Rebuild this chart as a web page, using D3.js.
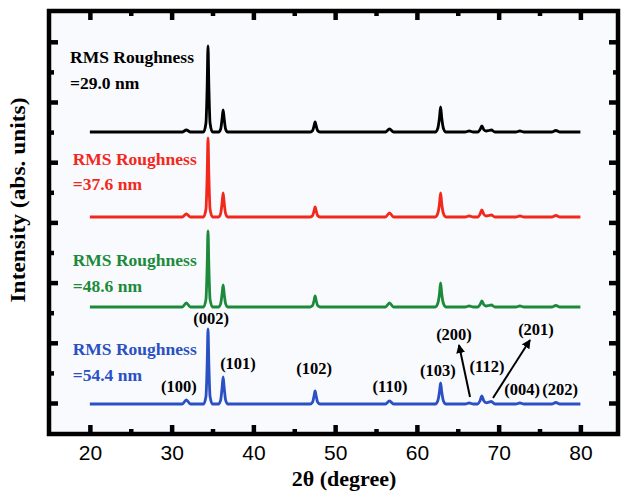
<!DOCTYPE html>
<html>
<head>
<meta charset="utf-8">
<script src="https://cdn.jsdelivr.net/npm/d3@7"></script>
<style>
  body { margin: 0; background: #ffffff; }
  .serif { font-family: "Liberation Serif", "Times New Roman", serif; font-weight: bold; }
  .tick text { font-family: "Liberation Sans", Arial, sans-serif; font-size: 21px; fill: #000; }
</style>
</head>
<body>
<script>
// Set H/W
const svgWidth = 622;
const svgHeight = 491;

// 2theta grid shared by all four patterns (degree)
const twoTheta = [20,
  31.3, 31.8, 32.3,
  33.9, 34.2, 34.35, 34.45, 34.55, 34.7, 35.0,
  35.75, 36.0, 36.17, 36.3, 36.43, 36.6, 36.85,
  46.95, 47.25, 47.42, 47.55, 47.68, 47.85, 48.15,
  56.15, 56.65, 57.15,
  62.25, 62.55, 62.76, 62.9, 63.04, 63.25, 63.55,
  65.9, 66.4, 66.9,
  67.45, 67.72, 67.95, 68.18, 68.5, 68.8, 69.1, 69.55,
  72.1, 72.6, 73.1,
  76.5, 77.0, 77.5,
  80];

// intensities (abs. units), one list per film
const black29 = [0,
  0, 2, 0,
  0, 9, 47, 86, 47, 9, 0,
  0, 3, 13, 22, 13, 3, 0,
  0, 1.5, 6, 10, 6, 1.5, 0,
  0, 3, 0,
  0, 3.5, 14, 25, 14, 3.5, 0,
  0, 1, 0,
  0, 2.4, 6, 2.4, 1, 1.5, 2, 0,
  0, 1, 0,
  0, 1.5, 0,
  0];
const red376 = [0,
  0, 3, 0,
  0, 8, 43, 79, 43, 8, 0,
  0, 3.6, 14, 24, 14, 3.6, 0,
  0, 1.5, 6, 10, 6, 1.5, 0,
  0, 4, 0,
  0, 3.4, 13, 24, 13, 3.4, 0,
  0, 1, 0,
  0, 2.8, 7, 2.8, 1, 1.5, 2, 0,
  0, 1, 0,
  0, 1.5, 0,
  0];
const green486 = [0,
  0, 4, 0,
  0, 7.6, 42, 76, 42, 7.6, 0,
  0, 3.3, 13, 22, 13, 3.3, 0,
  0, 1.6, 6.5, 11, 6.5, 1.6, 0,
  0, 4, 0,
  0, 3.4, 13, 24, 13, 3.4, 0,
  0, 1, 0,
  0, 2.4, 6, 2.4, 1, 1.5, 2, 0,
  0, 1, 0,
  0, 1.5, 0,
  0];
const blue544 = [0,
  0, 4, 0,
  0, 7.5, 41, 75, 41, 7.5, 0,
  0, 4, 16, 27, 16, 4, 0,
  0, 2, 8, 13, 8, 2, 0,
  0, 3, 0,
  0, 3, 12, 21, 12, 3, 0,
  0, 1, 0,
  0, 3.2, 8, 3.2, 1.2, 1.8, 2.5, 0,
  0, 1, 0,
  0, 1.5, 0,
  0];

const seriesValues = [black29, red376, green486, blue544];
const seriesOffsets = [271, 186, 96, -1];
const seriesColors = ["#000000", "#f2281c", "#1c8a3a", "#2a50c4"];
const roughness = ["=29.0 nm", "=37.6 nm", "=48.6 nm", "=54.4 nm"];
// label anchor per series: [2theta, intensity of first baseline, second baseline]
const labelPos = [[17.57, 340, 314], [17.9, 238, 213], [17.9, 137, 111], [17.9, 48, 22]];

// Miller indices and where their labels sit
const peakNames = ["(100)", "(002)", "(101)", "(102)", "(110)", "(103)", "(200)", "(112)", "(201)", "(004)", "(202)"];
const peakLabelX = [30.9, 34.82, 38.12, 47.42, 56.71, 62.58, 64.54, 68.58, 74.57, 72.86, 77.51];
const peakLabelY = [11, 79, 34, 29, 11, 27, 63, 31, 68, 8, 8];
// arrows [x1, y1, x2, y2] for (200) and (201)
const arrows = [[66.5, 6, 65.15, 58], [69.31, 5, 73.84, 63]];

const xMajor = [20, 30, 40, 50, 60, 70, 80];
const xMinor = [25, 35, 45, 55, 65, 75];
const yMajor = [0, 60.2, 120.4, 180.6, 240.8, 301, 361.2];
const yMinor = [30.1, 90.3, 150.5, 210.7, 270.9, 331.1];

// plot frame
const frame = { left: 49, right: 618, top: 11, bottom: 434 };

const svg = d3.select("body")
  .append("svg")
  .attr("width", svgWidth)
  .attr("height", svgHeight);

const x = d3.scaleLinear().domain([15, 84.6]).range([frame.left, frame.right]);
const y = d3.scaleLinear().domain([-31, 392]).range([frame.bottom, frame.top]);

svg.append("rect")
  .attr("x", frame.left)
  .attr("y", frame.top)
  .attr("width", frame.right - frame.left)
  .attr("height", frame.bottom - frame.top)
  .attr("fill", "#f9fafd");

// axes, ticks inward on all four sides
function drawAxis(axisFn, pos, transform, values, size, labels) {
  const ax = axisFn(pos).tickValues(values).tickSize(-size).tickSizeOuter(0);
  if (labels) ax.tickPadding(11); else ax.tickFormat("");
  const g = svg.append("g").attr("transform", transform).call(ax);
  g.select(".domain").remove();
  g.selectAll(".tick line").attr("stroke", "#000").attr("stroke-width", 4.5);
  return g;
}
drawAxis(d3.axisBottom, x, `translate(0,${frame.bottom})`, xMajor, 9, true);
drawAxis(d3.axisBottom, x, `translate(0,${frame.bottom})`, xMinor, 5, false);
drawAxis(d3.axisTop, x, `translate(0,${frame.top})`, xMajor, 9, false);
drawAxis(d3.axisTop, x, `translate(0,${frame.top})`, xMinor, 5, false);
drawAxis(d3.axisLeft, y, `translate(${frame.left},0)`, yMajor, 9, false);
drawAxis(d3.axisLeft, y, `translate(${frame.left},0)`, yMinor, 5, false);
drawAxis(d3.axisRight, y, `translate(${frame.right},0)`, yMajor, 9, false);
drawAxis(d3.axisRight, y, `translate(${frame.right},0)`, yMinor, 5, false);

svg.append("rect")
  .attr("x", frame.left)
  .attr("y", frame.top)
  .attr("width", frame.right - frame.left)
  .attr("height", frame.bottom - frame.top)
  .attr("fill", "none")
  .attr("stroke", "#000")
  .attr("stroke-width", 4.5);

// XRD patterns
const line = d3.line()
  .x(d => x(d[0]))
  .y(d => y(d[1]))
  .curve(d3.curveMonotoneX);

seriesValues.forEach((vals, i) => {
  const pts = twoTheta.map((t, j) => [t, vals[j] + seriesOffsets[i]]);
  svg.append("path")
    .datum(pts)
    .attr("d", line)
    .attr("fill", "none")
    .attr("stroke", seriesColors[i])
    .attr("stroke-width", 2.8)
    .attr("stroke-linejoin", "round");

  const lab = svg.append("text")
    .attr("class", "serif")
    .attr("fill", seriesColors[i])
    .style("font-size", "17.5px");
  lab.append("tspan")
    .attr("x", x(labelPos[i][0]))
    .attr("y", y(labelPos[i][1]))
    .text("RMS Roughness");
  lab.append("tspan")
    .attr("x", x(labelPos[i][0]))
    .attr("y", y(labelPos[i][2]))
    .text(roughness[i]);
});

// peak indexing
svg.selectAll(".peak")
  .data(peakNames)
  .enter()
  .append("text")
  .attr("class", "serif peak")
  .attr("x", (d, i) => x(peakLabelX[i]))
  .attr("y", (d, i) => y(peakLabelY[i]))
  .attr("text-anchor", "middle")
  .style("font-size", "16.5px")
  .text(d => d);

svg.append("defs").append("marker")
  .attr("id", "head")
  .attr("viewBox", "0 0 10 10")
  .attr("refX", 9)
  .attr("refY", 5)
  .attr("markerWidth", 4.5)
  .attr("markerHeight", 4.5)
  .attr("markerUnits", "strokeWidth")
  .attr("orient", "auto")
  .append("path")
  .attr("d", "M0,0 L10,5 L0,10 z")
  .attr("fill", "#000");

svg.selectAll(".arrow")
  .data(arrows)
  .enter()
  .append("line")
  .attr("class", "arrow")
  .attr("x1", d => x(d[0]))
  .attr("y1", d => y(d[1]))
  .attr("x2", d => x(d[2]))
  .attr("y2", d => y(d[3]))
  .attr("stroke", "#000")
  .attr("stroke-width", 2)
  .attr("marker-end", "url(#head)");

// axis titles
svg.append("text")
  .attr("class", "serif")
  .attr("x", 344)
  .attr("y", 486)
  .attr("text-anchor", "middle")
  .style("font-size", "22px")
  .text("2θ (degree)");

svg.append("text")
  .attr("class", "serif")
  .attr("transform", "translate(25,200) rotate(-90)")
  .attr("text-anchor", "middle")
  .attr("textLength", 205)
  .attr("lengthAdjust", "spacingAndGlyphs")
  .style("font-size", "20px")
  .text("Intensity (abs. units)");
</script>
</body>
</html>
